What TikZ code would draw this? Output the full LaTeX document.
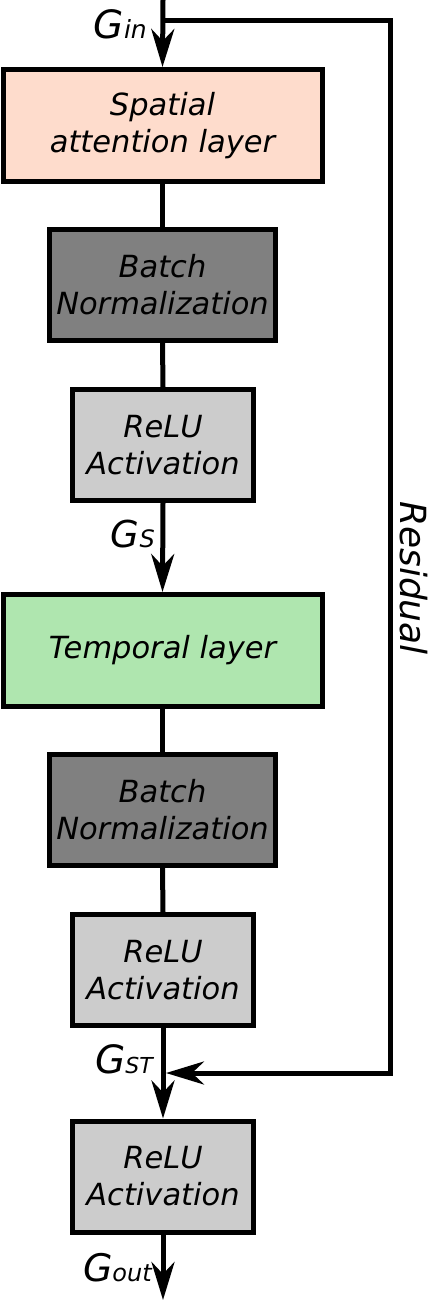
\documentclass[tikz,border=0pt]{standalone}
\usepackage{fontspec}
\setmainfont{DejaVu Sans}
\usetikzlibrary{arrows.meta}
\definecolor{peach}{HTML}{FEDCCC}
\definecolor{mint}{HTML}{AFE6AF}
\definecolor{bngray}{HTML}{808080}
\definecolor{relugray}{HTML}{CCCCCC}
\tikzset{
  blk/.style={draw=black, line width=5pt, rectangle, align=center, inner sep=0pt,
    font=\itshape\fontsize{30.5}{37}\selectfont},
  spbox/.style={blk, fill=peach, minimum width=319pt, minimum height=112pt},
  tpbox/.style={blk, fill=mint, minimum width=319pt, minimum height=112pt},
  bnbox/.style={blk, fill=bngray, minimum width=226pt, minimum height=111pt},
  rlbox/.style={blk, fill=relugray, minimum width=181pt, minimum height=111pt},
  conn/.style={line width=5pt, draw=black},
  arr/.style={conn, -{Stealth[length=38pt, width=23pt, inset=12pt]}},
  glabel/.style={anchor=base east, inner sep=0pt, font=\itshape},
}
\newcommand{\Gbig}[1]{{\fontsize{#1}{#1}\selectfont G}}
\newcommand{\Gsub}[2]{{\fontsize{#1}{#1}\selectfont #2}}
\begin{document}
\begin{tikzpicture}[x=1pt, y=-1pt]
\useasboundingbox (0,0) rectangle (432,1300);
\node[spbox] (sp) at (162.5,125.5) {Spatial\\attention layer};
\node[bnbox] (bn1) at (162.5,285) {Batch\\Normalization};
\node[rlbox] (rl1) at (163,445) {ReLU\\Activation};
\node[tpbox] (tp) at (162.5,650.5) {Temporal layer};
\node[bnbox] (bn2) at (162.5,810) {Batch\\Normalization};
\node[rlbox] (rl2) at (163,970) {ReLU\\Activation};
\node[rlbox] (rl3) at (163,1176.5) {ReLU\\Activation};
\coordinate (top) at (163,0);
\coordinate (bot) at (163,1300);
\coordinate (r1) at (163,21);
\coordinate (r2) at (390.5,21);
\coordinate (r3) at (390.5,1073);
\coordinate (join) at (166,1073);
\draw[arr] (top) -- (sp.north);
\draw[conn] (sp.south) -- (bn1.north);
\draw[conn] (bn1.south) -- (rl1.north);
\draw[arr] (rl1.south) -- (tp.north);
\draw[conn] (tp.south) -- (bn2.north);
\draw[conn] (bn2.south) -- (rl2.north);
\draw[arr] (rl2.south) -- (rl3.north);
\draw[arr] (rl3.south) -- (bot);
\draw[arr, line join=miter] (r1) -- (r2) -- (r3) -- (join);
\node[glabel] (gin) at (147,39) {\Gbig{39}\Gsub{25}{in}};
\node[glabel] (gs) at (155,547) {\Gbig{37}\Gsub{24}{S}};
\node[glabel] (gst) at (153,1073) {\Gbig{39}\Gsub{22}{ST}};
\node[glabel] (gout) at (152,1281) {\Gbig{38}\Gsub{24}{out}};
\node[rotate=-90, inner sep=0pt, font=\itshape\fontsize{36}{36}\selectfont] (res) at (414,578) {Residual};
\end{tikzpicture}
\end{document}
